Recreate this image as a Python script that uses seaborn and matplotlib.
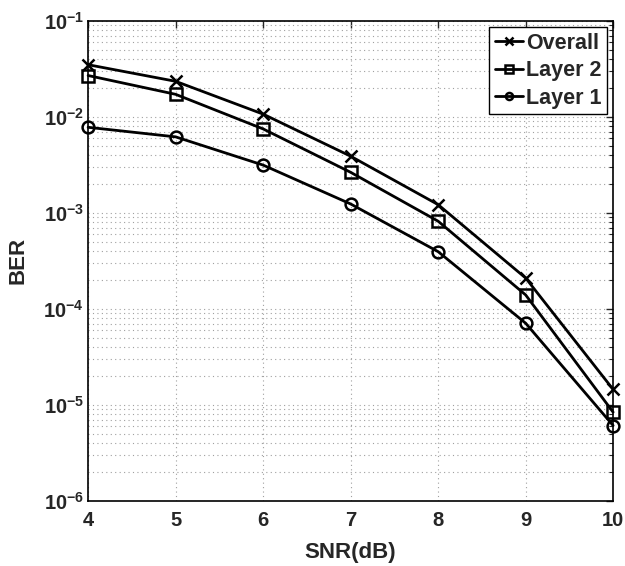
import numpy as np
import pandas as pd
import matplotlib
matplotlib.use("Agg")
import matplotlib.pyplot as plt
import matplotlib.ticker as ticker
import seaborn as sns

snr = [4, 5, 6, 7, 8, 9, 10]
ber_overall = [3.5e-2, 2.35e-2, 1.07e-2, 3.9e-3, 1.22e-3, 2.1e-4, 1.45e-5]
ber_layer2 = [2.7e-2, 1.72e-2, 7.5e-3, 2.65e-3, 8.2e-4, 1.4e-4, 8.4e-6]
ber_layer1 = [7.8e-3, 6.2e-3, 3.15e-3, 1.24e-3, 3.95e-4, 7.1e-5, 6.1e-6]
series_names = ["Overall", "Layer 2", "Layer 1"]
series_markers = ["x", "s", "o"]

df = pd.DataFrame({
    "SNR": snr * 3,
    "BER": ber_overall + ber_layer2 + ber_layer1,
    "series": [n for n in series_names for _ in snr],
})

sns.set_style("white")
plt.rcParams["font.family"] = ["Liberation Sans", "DejaVu Sans"]
plt.rcParams["font.weight"] = "bold"
plt.rcParams["axes.labelweight"] = "bold"
plt.rcParams["mathtext.fontset"] = "custom"
plt.rcParams["mathtext.rm"] = "Liberation Sans:bold"
plt.rcParams["mathtext.bf"] = "Liberation Sans:bold"
plt.rcParams["mathtext.default"] = "bf"

fig = plt.figure(figsize=(6.25, 5.66), dpi=100)
ax = fig.add_axes([0.141, 0.115, 0.840, 0.848])

for name, mk in zip(series_names, series_markers):
    sub = df[df["series"] == name]
    sns.lineplot(data=sub, x="SNR", y="BER", color="black", marker=mk,
                 linewidth=2.0, markersize=8.5, markerfacecolor="none",
                 markeredgecolor="black", markeredgewidth=1.8, label=name,
                 legend=False, clip_on=False, zorder=3, ax=ax)

ax.set_yscale("log")
ax.set_xlim(4, 10)
ax.set_ylim(1e-6, 1e-1)
ax.xaxis.set_major_locator(ticker.MultipleLocator(1))
ax.yaxis.set_major_locator(ticker.LogLocator(base=10, numticks=10))
ax.yaxis.set_major_formatter(ticker.FuncFormatter(
    lambda v, p: r"$\mathbf{10^{%d}}$" % int(round(np.log10(v)))))
ax.yaxis.set_minor_locator(ticker.LogLocator(base=10, subs=np.arange(2, 10), numticks=20))
ax.yaxis.set_minor_formatter(ticker.NullFormatter())

ax.grid(True, which="major", axis="both", linestyle=(0, (1, 3)), color="#a0a0a0", linewidth=0.8)
ax.grid(True, which="minor", axis="y", linestyle=(0, (1, 3)), color="#a0a0a0", linewidth=0.8)

ax.tick_params(axis="both", which="both", direction="in", top=True, right=True, labelsize=14.5)
ax.tick_params(which="major", length=5, width=1)
ax.tick_params(which="minor", length=3, width=0.8)
ax.tick_params(axis="x", pad=7)
ax.tick_params(axis="y", pad=3)
for lab in ax.get_xticklabels() + ax.get_yticklabels():
    lab.set_fontweight("bold")
for sp in ax.spines.values():
    sp.set_color("black")
    sp.set_linewidth(1.2)

ax.set_xlabel("SNR(dB)", fontsize=16, fontweight="bold", labelpad=9)
ax.set_ylabel("BER", fontsize=16, fontweight="bold", labelpad=11)

leg = ax.legend(handles=ax.lines[:3], labels=series_names, loc="upper right",
                prop={"weight": "bold", "size": 15.5}, fancybox=False, framealpha=1,
                edgecolor="black", handlelength=1.3, handletextpad=0.15, borderpad=0.25,
                labelspacing=0.3, borderaxespad=0.3, markerscale=0.6)
leg.get_frame().set_linewidth(1.0)

fig.savefig("out.png", dpi=100)
